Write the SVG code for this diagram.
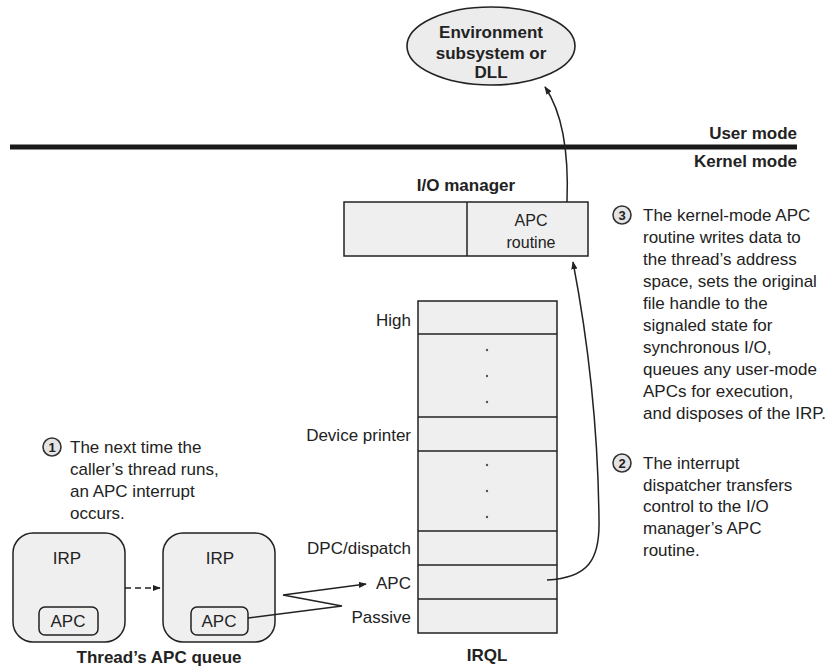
<svg xmlns="http://www.w3.org/2000/svg" width="832" height="668" viewBox="0 0 832 668">
<defs>
<style>
text{font-family:"Liberation Sans",Arial,sans-serif;fill:#222}
.t{font-size:17px}
.b{font-size:17px;font-weight:bold}
.r{text-anchor:end}
.m{text-anchor:middle}
.box{fill:#efefef;stroke:#222;stroke-width:1.5}
.num{fill:#e4e4e4;stroke:#333;stroke-width:1.6}
.nt{font-size:13px;font-weight:bold;text-anchor:middle}
.ln{fill:none;stroke:#222;stroke-width:1.5}
</style>
<marker id="ah" viewBox="0 0 10 10" refX="9" refY="5" markerWidth="8" markerHeight="8" orient="auto-start-reverse" markerUnits="userSpaceOnUse">
<path d="M0,1 L10,5 L0,9 Z" fill="#222"/>
</marker>
</defs>
<rect width="832" height="668" fill="#fff"/>

<g id="env">
<ellipse cx="491" cy="46" rx="84" ry="39" fill="#ececec" stroke="#222" stroke-width="1.6"/>
<text class="b m" x="491" y="38">Environment</text>
<text class="b m" x="491" y="59">subsystem or</text>
<text class="b m" x="491" y="78">DLL</text>
</g>

<g id="boundary">
<line x1="10" y1="147" x2="797" y2="147" stroke="#1a1a1a" stroke-width="5"/>
<text class="b r" x="797" y="139">User mode</text>
<text class="b r" x="797" y="167">Kernel mode</text>
</g>

<g id="iomgr">
<text class="b m" x="466" y="191">I/O manager</text>
<rect class="box" x="344" y="202" width="244" height="54"/>
<line class="ln" x1="467" y1="202" x2="467" y2="256"/>
<text class="t m" x="531" y="226" style="font-size:16px">APC</text>
<text class="t m" x="531" y="248" style="font-size:16px">routine</text>
</g>

<g id="irql">
<rect class="box" x="418" y="301" width="139" height="332"/>
<line class="ln" x1="418" y1="334" x2="557" y2="334"/>
<line class="ln" x1="418" y1="417" x2="557" y2="417"/>
<line class="ln" x1="418" y1="451" x2="557" y2="451"/>
<line class="ln" x1="418" y1="531" x2="557" y2="531"/>
<line class="ln" x1="418" y1="565" x2="557" y2="565"/>
<line class="ln" x1="418" y1="599" x2="557" y2="599"/>
<g fill="#555">
<circle cx="487" cy="350" r="1.2"/><circle cx="487" cy="376" r="1.2"/><circle cx="487" cy="402" r="1.2"/>
<circle cx="487" cy="465" r="1.2"/><circle cx="487" cy="491" r="1.2"/><circle cx="487" cy="517" r="1.2"/>
</g>
<text class="t r" x="411" y="326">High</text>
<text class="t r" x="411" y="441">Device printer</text>
<text class="t r" x="411" y="554">DPC/dispatch</text>
<text class="t r" x="411" y="589">APC</text>
<text class="t r" x="411" y="623">Passive</text>
<text class="b m" x="487" y="661">IRQL</text>
</g>

<g id="irp1">
<rect class="box" x="13" y="533" width="112" height="109" rx="20"/>
<text class="t m" x="67" y="564">IRP</text>
<rect class="box" x="39" y="607" width="59" height="28" rx="6"/>
<text class="t m" x="68" y="627">APC</text>
</g>

<g id="irp2">
<rect class="box" x="163" y="533" width="112" height="109" rx="20"/>
<text class="t m" x="220" y="564">IRP</text>
<rect class="box" x="191" y="607" width="57" height="28" rx="6"/>
<text class="t m" x="219" y="627">APC</text>
</g>

<text class="b m" x="159" y="663">Thread’s APC queue</text>

<g id="step1">
<circle class="num" cx="52" cy="447" r="9"/>
<text class="nt" x="52" y="452">1</text>
<text class="t" x="70" y="453">The next time the</text>
<text class="t" x="70" y="475">caller’s thread runs,</text>
<text class="t" x="70" y="497">an APC interrupt</text>
<text class="t" x="70" y="519">occurs.</text>
</g>

<g id="step2">
<circle class="num" cx="622" cy="463" r="9"/>
<text class="nt" x="622" y="468">2</text>
<text class="t" x="643" y="469">The interrupt</text>
<text class="t" x="643" y="491">dispatcher transfers</text>
<text class="t" x="643" y="512">control to the I/O</text>
<text class="t" x="643" y="534">manager’s APC</text>
<text class="t" x="643" y="556">routine.</text>
</g>

<g id="step3">
<circle class="num" cx="622" cy="215" r="9"/>
<text class="nt" x="622" y="220">3</text>
<text class="t" x="643" y="221">The kernel-mode APC</text>
<text class="t" x="643" y="243">routine writes data to</text>
<text class="t" x="643" y="265">the thread’s address</text>
<text class="t" x="643" y="287">space, sets the original</text>
<text class="t" x="643" y="309">file handle to the</text>
<text class="t" x="643" y="331">signaled state for</text>
<text class="t" x="643" y="353">synchronous I/O,</text>
<text class="t" x="643" y="375">queues any user-mode</text>
<text class="t" x="643" y="397">APCs for execution,</text>
<text class="t" x="643" y="419">and disposes of the IRP.</text>
</g>

<g id="connectors">
<path class="ln" d="M567,202 C569,150 562,112 545,87" marker-end="url(#ah)"/>
<path class="ln" d="M547,580 C588,578 600,560 599,520 C598,420 586,330 573,262" marker-end="url(#ah)"/>
<path class="ln" d="M125,588 L160,588" stroke-dasharray="6,4" marker-end="url(#ah)"/>
<path class="ln" d="M248,618 L342,606 L283,595 L366,584" marker-end="url(#ah)"/>
</g>
</svg>
